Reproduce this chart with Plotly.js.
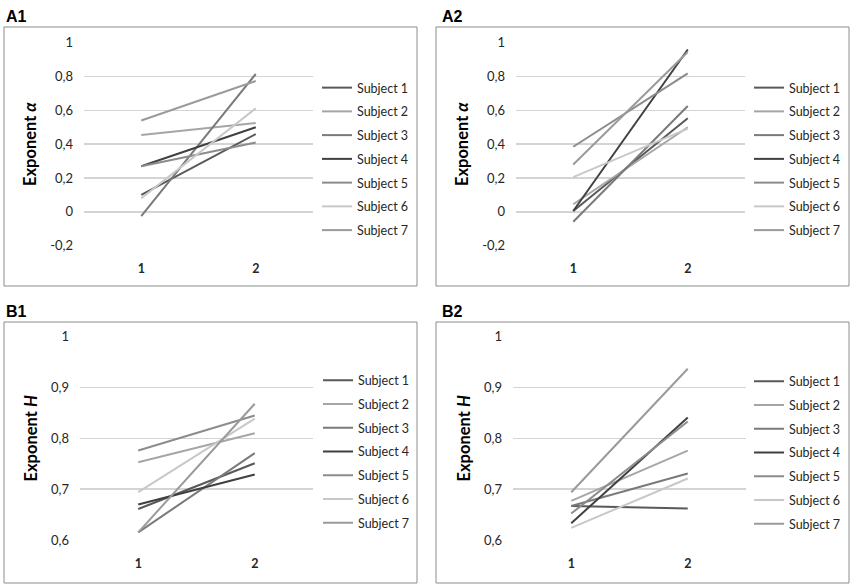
<!DOCTYPE html>
<html>
<head>
<meta charset="utf-8">
<script src="https://cdn.plot.ly/plotly-3.0.1.min.js"></script>
<style>html,body{margin:0;padding:0;background:#fff;}#chart{width:856px;height:587px;}</style>
</head>
<body>
<div id="chart"></div>
<script>
// ---- data ----
const sessions = ['1', '2'];
const subjects = ['Subject 1', 'Subject 2', 'Subject 3', 'Subject 4', 'Subject 5', 'Subject 6', 'Subject 7'];
const subjectColors = ['#595959', '#a6a6a6', '#7a7a7a', '#404040', '#8c8c8c', '#c8c8c8', '#9a9a9a'];

const A1_session1 = [0.10, 0.455, -0.025, 0.27, 0.27, 0.08, 0.54];
const A1_session2 = [0.46, 0.525, 0.815, 0.50, 0.41, 0.612, 0.774];
const A2_session1 = [0.005, 0.045, -0.058, 0.005, 0.385, 0.205, 0.28];
const A2_session2 = [0.553, 0.50, 0.626, 0.96, 0.819, 0.492, 0.945];
const B1_session1 = [0.661, 0.753, 0.615, 0.670, 0.776, 0.694, 0.615];
const B1_session2 = [0.751, 0.810, 0.771, 0.729, 0.845, 0.839, 0.868];
const B2_session1 = [0.667, 0.677, 0.667, 0.633, 0.652, 0.624, 0.694];
const B2_session2 = [0.662, 0.776, 0.731, 0.841, 0.833, 0.721, 0.937];

const alphaTickVals = [-0.2, 0, 0.2, 0.4, 0.6, 0.8, 1];
const alphaTickText = ['-0,2', '0', '0,2', '0,4', '0,6', '0,8', '1'];
const hTickVals = [0.6, 0.7, 0.8, 0.9, 1];
const hTickText = ['0,6', '0,7', '0,8', '0,9', '1'];

const panelLabels = ['A1', 'A2', 'B1', 'B2'];
const panelTitles = ['Exponent <i>α</i>', 'Exponent <i>α</i>', 'Exponent <i>H</i>', 'Exponent <i>H</i>'];

// ---- layout geometry (pixels) ----
const W = 856, H = 587;
const panels = [
  {s1: A1_session1, s2: A1_session2, plot: [84, 313, 42.7, 245.7], box: [4, 417, 27, 286], lab: [4, 16], leg: [317, 73], range: [-0.2, 1], tv: alphaTickVals, tt: alphaTickText},
  {s1: A2_session1, s2: A2_session2, plot: [516, 745, 42.7, 245.7], box: [436, 849, 27, 286], lab: [440, 16], leg: [749, 73], range: [-0.2, 1], tv: alphaTickVals, tt: alphaTickText},
  {s1: B1_session1, s2: B1_session2, plot: [80, 313, 336.7, 540], box: [4, 417, 322, 583], lab: [4, 311], leg: [318, 365.5], range: [0.6, 1], tv: hTickVals, tt: hTickText},
  {s1: B2_session1, s2: B2_session2, plot: [513, 746, 336.7, 540], box: [436, 849, 322, 583], lab: [440, 311], leg: [749, 366.5], range: [0.6, 1], tv: hTickVals, tt: hTickText}
];

const px = v => v / W;
const py = v => 1 - v / H;

const traces = [];
const layout = {
  width: W, height: H,
  margin: {l: 0, r: 0, t: 0, b: 0},
  paper_bgcolor: '#fff', plot_bgcolor: '#fff',
  font: {family: 'Lato, "Liberation Sans", sans-serif', size: 12, color: '#262626'},
  shapes: [], annotations: []
};

panels.forEach((p, k) => {
  const n = k === 0 ? '' : String(k + 1);
  const legName = 'legend' + n;
  subjects.forEach((s, i) => {
    traces.push({
      type: 'scatter', mode: 'lines',
      x: sessions, y: [p.s1[i], p.s2[i]],
      name: s,
      line: {color: subjectColors[i], width: 2},
      xaxis: 'x' + n, yaxis: 'y' + n,
      legend: legName,
      legendgroup: legName + '_' + i,
      hoverinfo: 'skip'
    });
  });
  layout['xaxis' + n] = {
    domain: [px(p.plot[0]), px(p.plot[1])],
    anchor: 'y' + n,
    type: 'category',
    range: [-0.5, 1.5],
    showgrid: false, zeroline: false, showline: false,
    ticks: '', ticklabelstandoff: 14,
    tickfont: {family: 'Lato, "Liberation Sans", sans-serif', size: 12.5, color: '#262626', weight: 'bold'},
    fixedrange: true
  };
  layout['yaxis' + n] = {
    domain: [py(p.plot[3]), py(p.plot[2])],
    anchor: 'x' + n,
    range: p.range,
    tickvals: p.tv, ticktext: p.tt,
    showgrid: true, gridcolor: '#d4d4d4', gridwidth: 1.5,
    zeroline: false, showline: false, ticks: '',
    ticklabelstandoff: 10,
    tickfont: {family: 'Lato, "Liberation Sans", sans-serif', size: 13, color: '#262626'},
    title: {text: panelTitles[k], standoff: 9, font: {family: 'Lato, "Liberation Sans", sans-serif', size: 16.5, color: '#000', weight: 'bold'}},
    fixedrange: true
  };
  layout[legName] = {
    x: px(p.leg[0]), y: py(p.leg[1]),
    xanchor: 'left', yanchor: 'top',
    bgcolor: 'rgba(0,0,0,0)',
    traceorder: 'grouped', tracegroupgap: 4.5,
    font: {family: 'Lato, "Liberation Sans", sans-serif', size: 12.5, color: '#262626'}
  };
  layout.shapes.push({
    type: 'rect', xref: 'paper', yref: 'paper',
    x0: px(p.box[0]), x1: px(p.box[1]), y0: py(p.box[3]), y1: py(p.box[2]),
    line: {color: '#8c8c8c', width: 1}, fillcolor: 'rgba(0,0,0,0)', layer: 'below'
  });
  layout.annotations.push({
    xref: 'paper', yref: 'paper', x: px(p.lab[0]), y: py(p.lab[1]),
    xanchor: 'left', yanchor: 'middle', showarrow: false,
    text: '<b>' + panelLabels[k] + '</b>',
    font: {family: '"Liberation Sans", Arial, sans-serif', size: 16, color: '#000'}
  });
});

Plotly.newPlot('chart', traces, layout, {displayModeBar: false, staticPlot: true});
</script>
</body>
</html>
